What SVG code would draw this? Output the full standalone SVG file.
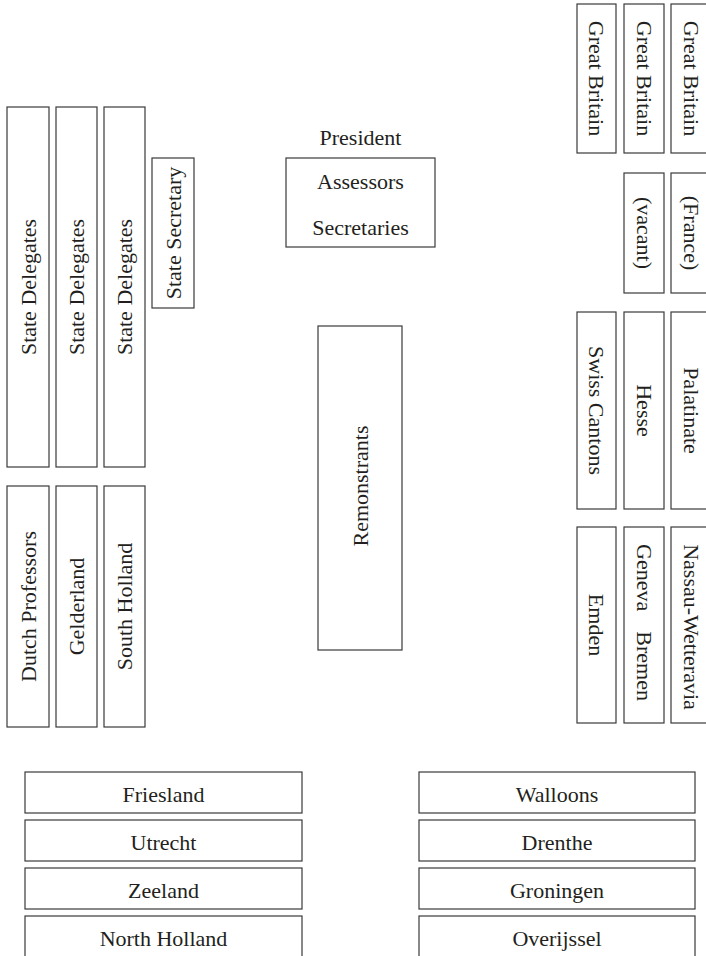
<svg xmlns="http://www.w3.org/2000/svg" width="706" height="956" viewBox="0 0 706 956">
<style>
rect{fill:#fff;stroke:#3a3a3a;stroke-width:1.2}
text{font-family:"Liberation Serif","Times New Roman",serif;font-size:22px;fill:#231f20;text-anchor:middle}
.s{text-anchor:start}
.e{text-anchor:end}
</style>
<rect x="0" y="0" width="706" height="956" style="stroke:none"/>
<g id="connectors"/>
<!-- top right -->
<g id="gb1"><rect x="577" y="4" width="39" height="149"/><text transform="translate(589,78.5) rotate(90)">Great Britain</text></g>
<g id="gb2"><rect x="624" y="4" width="40" height="149"/><text transform="translate(636.5,78.5) rotate(90)">Great Britain</text></g>
<g id="gb3"><rect x="671" y="4" width="40" height="149"/><text transform="translate(683.5,78.5) rotate(90)">Great Britain</text></g>
<g id="vacant"><rect x="624" y="173" width="40" height="120"/><text transform="translate(636.5,233) rotate(90)">(vacant)</text></g>
<g id="france"><rect x="671" y="173" width="40" height="120"/><text transform="translate(683.5,233) rotate(90)">(France)</text></g>
<g id="swiss"><rect x="577" y="312" width="39" height="197"/><text transform="translate(589,410.5) rotate(90)">Swiss Cantons</text></g>
<g id="hesse"><rect x="624" y="312" width="40" height="197"/><text transform="translate(636.5,410.5) rotate(90)">Hesse</text></g>
<g id="palatinate"><rect x="671" y="312" width="40" height="197"/><text transform="translate(683.5,410.5) rotate(90)">Palatinate</text></g>
<g id="emden"><rect x="577" y="527" width="39" height="196"/><text transform="translate(589,625) rotate(90)">Emden</text></g>
<g id="geneva-bremen"><rect x="624" y="527" width="40" height="196"/><text class="s" transform="translate(636.5,544) rotate(90)">Geneva</text><text class="e" transform="translate(636.5,701) rotate(90)">Bremen</text></g>
<g id="nassau"><rect x="671" y="527" width="40" height="196"/><text transform="translate(683.5,627) rotate(90)">Nassau-Wetteravia</text></g>
<!-- center -->
<g id="presidium"><text x="360.5" y="145">President</text><rect x="286" y="158" width="149" height="89"/><text x="360.5" y="189">Assessors</text><text x="360.5" y="235">Secretaries</text></g>
<g id="remonstrants"><rect x="318" y="326" width="84" height="324"/><text transform="translate(367.5,486) rotate(-90)">Remonstrants</text></g>
<!-- left -->
<g id="sd1"><rect x="7" y="107" width="42" height="360"/><text transform="translate(35.5,287) rotate(-90)">State Delegates</text></g>
<g id="sd2"><rect x="56" y="107" width="41" height="360"/><text transform="translate(84,287) rotate(-90)">State Delegates</text></g>
<g id="sd3"><rect x="104" y="107" width="41" height="360"/><text transform="translate(132,287) rotate(-90)">State Delegates</text></g>
<g id="secretary"><rect x="152" y="158" width="42" height="150"/><text transform="translate(180.5,233) rotate(-90)">State Secretary</text></g>
<g id="professors"><rect x="7" y="486" width="42" height="241"/><text transform="translate(35.5,606.5) rotate(-90)">Dutch Professors</text></g>
<g id="gelderland"><rect x="56" y="486" width="41" height="241"/><text transform="translate(84,606.5) rotate(-90)">Gelderland</text></g>
<g id="southholland"><rect x="104" y="486" width="41" height="241"/><text transform="translate(132,606.5) rotate(-90)">South Holland</text></g>
<!-- bottom -->
<g id="friesland"><rect x="25" y="772" width="277" height="41"/><text x="163.5" y="801.5">Friesland</text></g>
<g id="utrecht"><rect x="25" y="820" width="277" height="41"/><text x="163.5" y="849.5">Utrecht</text></g>
<g id="zeeland"><rect x="25" y="868" width="277" height="41"/><text x="163.5" y="897.5">Zeeland</text></g>
<g id="northholland"><rect x="25" y="916" width="277" height="45"/><text x="163.5" y="945.5">North Holland</text></g>
<g id="walloons"><rect x="419" y="772" width="276" height="41"/><text x="557" y="801.5">Walloons</text></g>
<g id="drenthe"><rect x="419" y="820" width="276" height="41"/><text x="557" y="849.5">Drenthe</text></g>
<g id="groningen"><rect x="419" y="868" width="276" height="41"/><text x="557" y="897.5">Groningen</text></g>
<g id="overijssel"><rect x="419" y="916" width="276" height="45"/><text x="557" y="945.5">Overijssel</text></g>
</svg>
